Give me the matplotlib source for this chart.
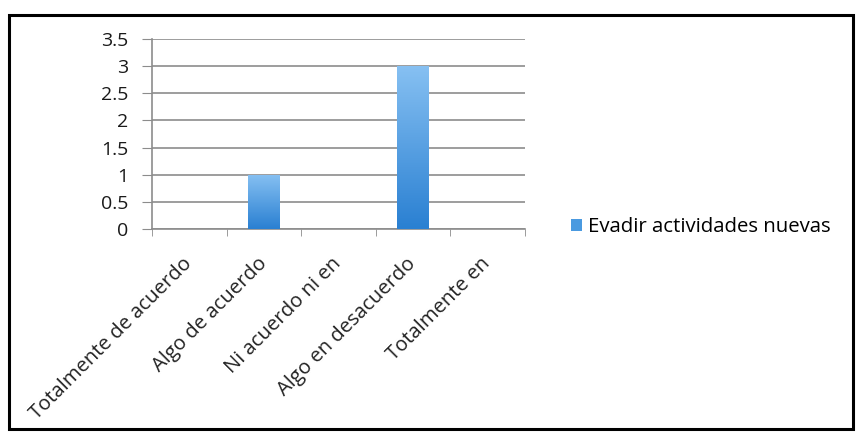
import numpy as np
import matplotlib
matplotlib.use("Agg")
import matplotlib.pyplot as plt
from matplotlib.patches import Rectangle
from matplotlib.colors import LinearSegmentedColormap

categories = ["Totalmente de acuerdo", "Algo de acuerdo", "Ni acuerdo ni en",
              "Algo en desacuerdo", "Totalmente en"]
values = [0, 1, 0, 3, 0]
series_name = "Evadir actividades nuevas"
yticks = [0, 0.5, 1, 1.5, 2, 2.5, 3, 3.5]
ytick_labels = ["0", "0.5", "1", "1.5", "2", "2.5", "3", "3.5"]

plt.rcParams["font.family"] = ["Open Sans", "DejaVu Sans"]

fig = plt.figure(figsize=(8.56, 4.36), dpi=100)
fig.patch.set_facecolor("white")

# outer chart frame
fig.add_artist(Rectangle((9 / 856, 7 / 436), 844 / 856, 414 / 436,
                         transform=fig.transFigure, fill=False,
                         edgecolor="black", linewidth=2.2))

ax = fig.add_axes([152 / 856, 1 - 229 / 436, 373 / 856, 190 / 436])
x = np.arange(len(categories))
bar_w = 0.42
grad = LinearSegmentedColormap.from_list("bar", ["#2a80d2", "#86c0f2"])
bars = ax.bar(x, values, width=bar_w, color="#4a9ae0", zorder=3,
              label=series_name)
gimg = np.linspace(0, 1, 100).reshape(-1, 1)
for b in bars:
    h = b.get_height()
    if h <= 0:
        continue
    x0 = b.get_x()
    im = ax.imshow(gimg, cmap=grad, origin="lower", aspect="auto",
                   extent=[x0, x0 + b.get_width(), 0, h], zorder=3)
    im.set_clip_path(b)
    b.set_facecolor("none")

ax.set_xlim(-0.5, len(categories) - 0.5)
ax.set_ylim(0, 3.5)
ax.set_yticks(yticks)
ax.set_yticklabels(ytick_labels, fontsize=14, color="#1a1a1a")
ax.yaxis.grid(True, color="#8c8c8c", linewidth=1.2, zorder=0)
ax.set_axisbelow(True)

ax.set_xticks(x)
ax.set_xticklabels(categories, rotation=45, ha="right", va="center",
                   rotation_mode="anchor", fontsize=14.6, color="#222222")
ax.tick_params(axis="x", which="major", length=0, pad=23)
ax.set_xticks(np.arange(-0.5, len(categories)), minor=True)
ax.tick_params(axis="x", which="minor", length=5, color="#8c8c8c")
ax.tick_params(axis="y", length=7, color="#8c8c8c", pad=10)

for s in ["top", "right"]:
    ax.spines[s].set_visible(False)
ax.spines["left"].set_color("#8c8c8c")
ax.spines["bottom"].set_color("#8c8c8c")
ax.spines["left"].set_linewidth(1.2)
ax.spines["bottom"].set_linewidth(1.2)

handles = [Rectangle((0, 0), 1, 1, facecolor="#4a9ae0")]
fig.legend(handles, [series_name], loc="center left",
           bbox_to_anchor=(553 / 856, 1 - 227 / 436), frameon=False,
           fontsize=14.7, handlelength=0.5, handleheight=0.5,
           handletextpad=0.3)

fig.savefig("out.png", dpi=100, facecolor="white")
